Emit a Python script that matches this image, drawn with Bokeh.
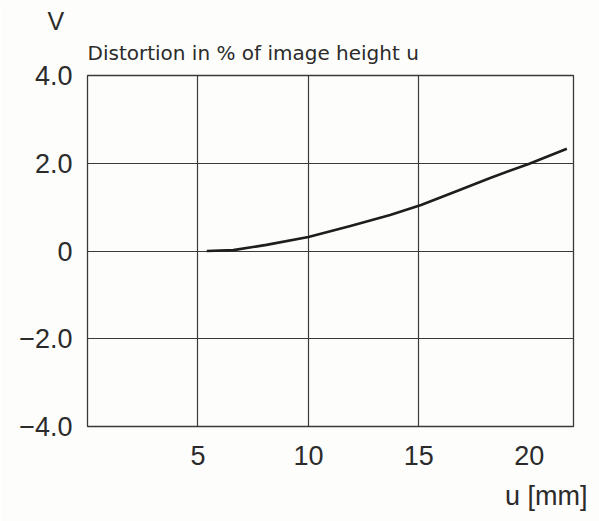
from bokeh.plotting import figure
from bokeh.models import Range1d, FixedTicker, Title
from bokeh.embed import file_html
from bokeh.resources import INLINE

# data
u_mm = [5.4, 6.6, 8.1, 10.0, 11.9, 13.7, 15.1, 16.7, 18.2, 20.0, 21.7]
distortion = [0.0, 0.02, 0.14, 0.32, 0.57, 0.82, 1.05, 1.36, 1.66, 1.99, 2.33]

x_ticks = [5, 10, 15, 20]
x_grid = [5, 10, 15]
y_ticks = [-4, -2, 0, 2, 4]
y_tick_labels = {-4: "\u22124.0", -2: "\u22122.0", 0: "0", 2: "2.0", 4: "4.0"}
y_grid = [-2, 0, 2]

title_text = "Distortion in % of image height u"
y_name = "V"
x_name = "u [mm]"

INK = "#2b2b2b"
LINE = "#3a3a3a"
FONT = "Liberation Sans"

p = figure(width=599, height=521, output_backend="svg", toolbar_location=None,
           x_range=Range1d(0, 22), y_range=Range1d(-4, 4),
           min_border_left=87, min_border_right=26, min_border_top=75, min_border_bottom=93)
p.background_fill_color = "#fdfdfb"
p.border_fill_color = "#fdfdfb"
p.outline_line_color = LINE
p.outline_line_width = 1.3

# grids
p.xgrid.ticker = FixedTicker(ticks=x_grid)
p.ygrid.ticker = FixedTicker(ticks=y_grid)
for g in (p.xgrid[0], p.ygrid[0]):
    g.grid_line_color = LINE
    g.grid_line_width = 1.2
    g.grid_line_alpha = 1.0

# axes
p.xaxis.ticker = FixedTicker(ticks=x_ticks)
p.yaxis.ticker = FixedTicker(ticks=y_ticks)
p.yaxis.major_label_overrides = y_tick_labels
for ax in (p.xaxis[0], p.yaxis[0]):
    ax.axis_line_color = None
    ax.major_tick_line_color = None
    ax.minor_tick_line_color = None
    ax.major_label_text_font = FONT
    ax.major_label_text_font_size = "27px"
    ax.major_label_text_color = INK
p.yaxis.major_label_standoff = 9
p.xaxis.major_label_standoff = 13

# curve
p.line(u_mm, distortion, line_color="#1e1e1e", line_width=2.6, line_join="round")

# texts
p.add_layout(Title(text=title_text, align="left", offset=0, standoff=22,
                   text_font="DejaVu Sans", text_font_size="20px", text_font_style="normal",
                   text_color=INK), "above")
p.add_layout(Title(text=y_name, align="left", offset=-40, standoff=-14,
                   text_font=FONT, text_font_size="25px", text_font_style="normal",
                   text_color=INK), "above")
p.add_layout(Title(text=x_name, align="right", offset=-14, standoff=22,
                   text_font=FONT, text_font_size="27px", text_font_style="normal",
                   text_color=INK), "below")

open("out.html", "w").write(file_html(p, INLINE))
